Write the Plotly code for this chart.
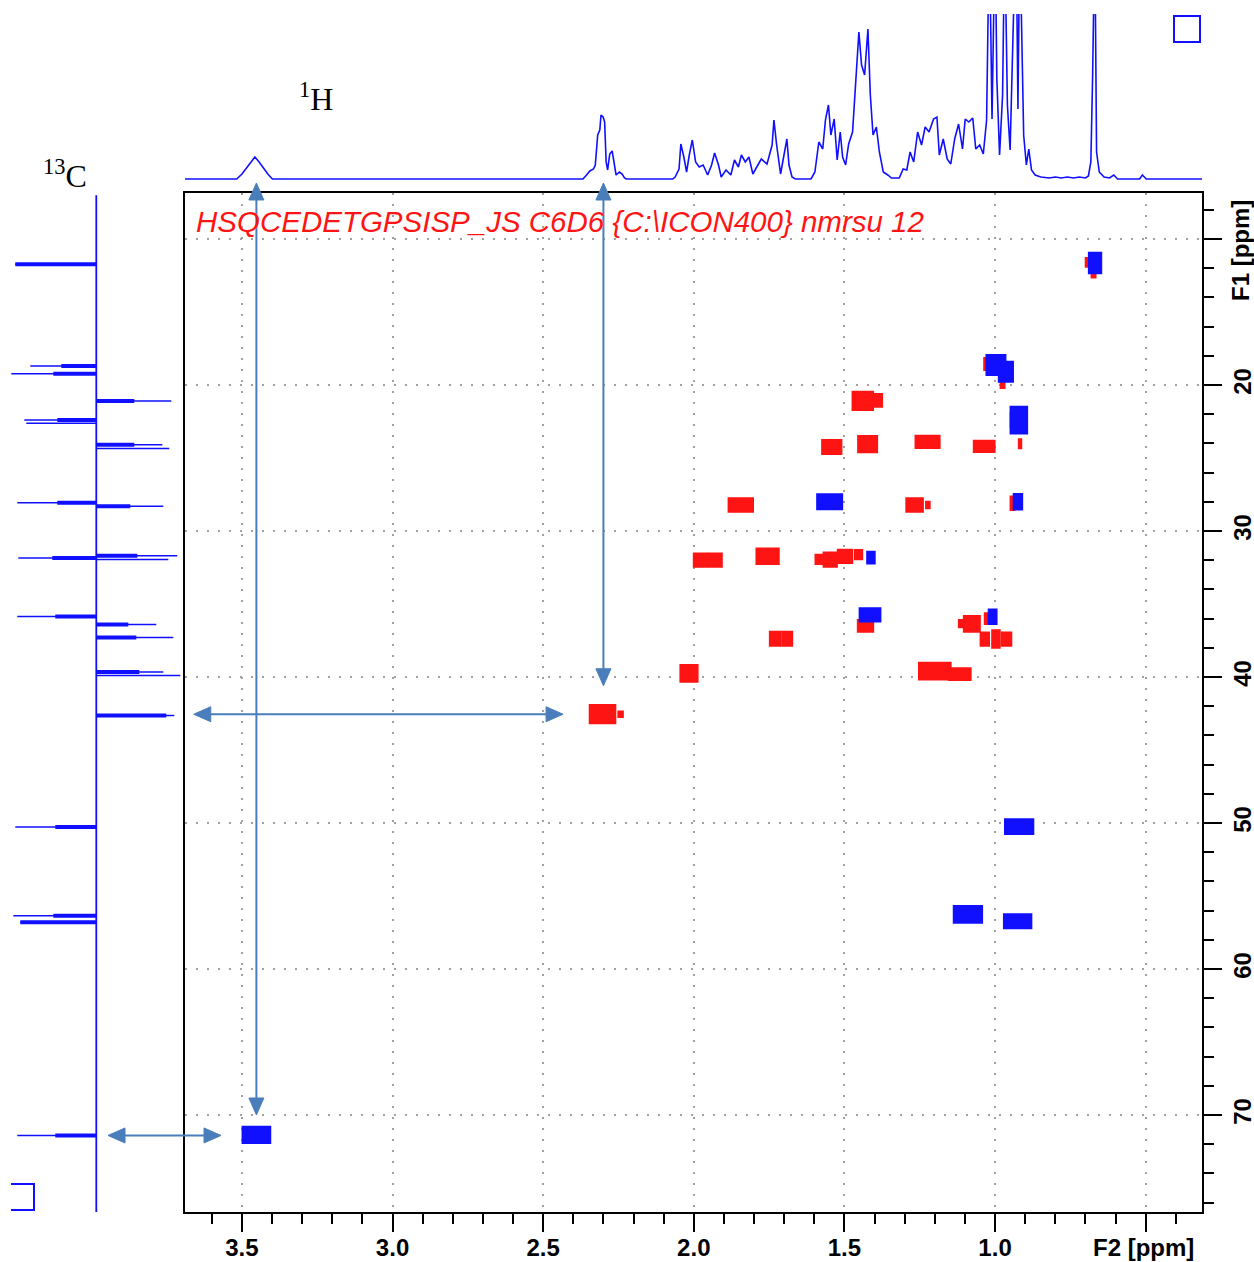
import plotly.graph_objects as go

W, H = 1254, 1262

# ---------------- 1H projection (F2) : ppm / intensity (arbitrary, clipped at top) -------------
h1_ppm = [3.689, 3.517, 3.500, 3.483, 3.472, 3.457, 3.443, 3.431, 3.414, 3.399,
          2.368, 2.356, 2.345, 2.333, 2.327, 2.319, 2.312, 2.308, 2.301, 2.296, 2.291, 2.286,
          2.279, 2.271, 2.264, 2.258, 2.247, 2.238, 2.230, 2.224,
          2.070, 2.062, 2.049, 2.043, 2.033, 2.024, 2.015, 2.005, 1.994, 1.982, 1.969, 1.954,
          1.941, 1.931, 1.918, 1.909, 1.893, 1.877, 1.865, 1.852, 1.842, 1.829, 1.817, 1.804,
          1.791, 1.776, 1.757, 1.740, 1.734, 1.725, 1.712, 1.699, 1.691, 1.684, 1.674, 1.663,
          1.611, 1.598, 1.585, 1.572, 1.563, 1.553, 1.545, 1.534, 1.524, 1.514, 1.506, 1.496,
          1.486, 1.473, 1.464, 1.452, 1.443, 1.433, 1.422, 1.414, 1.405, 1.394, 1.384, 1.371,
          1.356, 1.344, 1.318, 1.305, 1.293, 1.282, 1.270, 1.257, 1.244, 1.232, 1.219, 1.204,
          1.193, 1.185, 1.172, 1.159, 1.147, 1.134, 1.121, 1.108, 1.099, 1.087, 1.074, 1.064,
          1.051, 1.039, 1.028, 1.019, 1.010, 1.000, 0.994, 0.985, 0.975, 0.968, 0.959, 0.950,
          0.939, 0.930, 0.924, 0.918, 0.905, 0.896, 0.888, 0.879, 0.867, 0.848, 0.820, 0.800,
          0.780, 0.760, 0.740, 0.720, 0.700, 0.690, 0.682, 0.676, 0.669, 0.663, 0.654, 0.638,
          0.620, 0.606, 0.593, 0.520, 0.511, 0.498, 0.313]
h1_int = [0, 0, 5, 12, 17, 22, 17, 12, 5, 0,
          0, 4, 8, 10, 14, 44, 49, 64, 62, 57, 17, 9,
          25, 28, 15, 4, 7, 5, 1, 0,
          0, 2, 10, 35, 22, 7, 24, 39, 17, 12, 14, 4,
          14, 26, 14, 2, 9, 4, 19, 12, 24, 17, 22, 5,
          12, 20, 15, 34, 59, 34, 5, 27, 40, 14, 2, 0,
          0, 7, 37, 30, 59, 74, 44, 60, 19, 47, 22, 14,
          35, 47, 90, 147, 114, 104, 150, 84, 44, 52, 27, 7,
          4, 1, 1, 10, 9, 27, 17, 47, 34, 52, 47, 60,
          62, 24, 40, 20, 15, 40, 55, 30, 60, 57, 61, 30,
          34, 25, 59, 250, 60, 250, 100, 24, 84, 250, 74, 29,
          160, 250, 70, 250, 44, 14, 30, 9, 4, 2, 1, 2,
          1, 2, 1, 2, 1, 3, 17, 104, 250, 27, 7, 2,
          1, 4, 0, 0, 4, 0, 0]

# ---------------- 13C projection (F1) : ppm / intensity (+ left, - right) ----------------------
c13_ppm = [11.73, 18.70, 19.23, 22.40, 22.62, 28.06, 31.85, 35.86, 50.27, 56.35, 56.80, 71.40,
           21.10, 24.10, 24.35, 28.30, 31.70, 31.95, 36.40, 37.30, 39.66, 39.90, 42.63]
c13_int = [81, 66, 85, 72, 70, 79, 78, 79, 81, 83, 76, 79,
           -75, -66, -73, -67, -81, -72, -60, -77, -67, -84, -78]
c13_body = [81, 35, 43, 39, 0, 39, 44, 41, 41, 43, 76, 41,
            -38, -38, 0, -34, -41, 0, -32, -40, -43, 0, -70]

# ---------------- HSQC cross peaks: centre (1H, 13C), extent, phase ---------------------------
pk_h = [0.692, 0.673, 1.031, 0.975, 1.439, 1.390, 0.942, 0.917,
        1.542, 1.423, 1.224, 1.036, 1.844, 1.267, 1.223, 0.942,
        1.978, 1.929, 1.755, 1.585, 1.547, 1.498, 1.453, 1.430,
        1.730, 1.690, 1.077, 1.113, 1.026, 1.034, 0.997, 0.962,
        1.200, 1.117, 2.016, 2.303, 2.243,
        0.668, 0.997, 0.964, 0.921, 1.549, 0.924, 1.412, 1.415,
        1.008, 0.920, 1.090, 0.925, 3.452]
pk_c = [11.60, 12.47, 18.56, 19.40, 21.08, 21.05, 22.40, 24.03,
        24.25, 24.05, 23.90, 24.20, 28.22, 28.22, 28.22, 28.10,
        31.99, 31.99, 31.73, 31.94, 31.96, 31.74, 31.62, 36.50,
        37.38, 37.38, 36.36, 36.35, 36.00, 37.40, 37.40, 37.40,
        39.60, 39.80, 39.75, 42.55, 42.55,
        11.64, 18.63, 19.09, 22.40, 28.00, 28.00, 31.82, 35.75,
        35.87, 50.25, 56.26, 56.73, 71.36]
pk_dh = [0.014, 0.013, 0.010, 0.013, 0.068, 0.030, 0.012, 0.008,
         0.064, 0.063, 0.080, 0.069, 0.081, 0.055, 0.012, 0.013,
         0.044, 0.044, 0.074, 0.022, 0.044, 0.048, 0.024, 0.051,
         0.035, 0.033, 0.053, 0.014, 0.016, 0.028, 0.025, 0.032,
         0.105, 0.072, 0.057, 0.085, 0.015,
         0.041, 0.063, 0.047, 0.055, 0.083, 0.028, 0.025, 0.069,
         0.026, 0.094, 0.094, 0.091, 0.092]
pk_dc = [0.60, 0.35, 0.82, 1.60, 1.25, 0.87, 1.00, 0.62,
         0.96, 1.10, 0.84, 0.77, 0.91, 0.91, 0.46, 0.91,
         0.91, 0.91, 1.07, 0.64, 0.98, 0.91, 0.64, 0.80,
         0.96, 0.96, 1.07, 0.50, 0.73, 0.91, 1.19, 0.91,
         1.14, 0.80, 1.14, 1.25, 0.38,
         1.41, 1.37, 1.37, 1.83, 1.03, 1.07, 0.80, 0.91,
         1.00, 1.00, 1.14, 0.96, 1.10]
pk_phase = ["neg"] * 37 + ["pos"] * 13   # neg = CH2 (red), pos = CH/CH3 (blue)

# ---------------- axis ticks ----------------
x_tickvals = [3.5, 3.0, 2.5, 2.0, 1.5, 1.0, 0.5]
x_ticktext = ["3.5", "3.0", "2.5", "2.0", "1.5", "1.0", ""]
y_tickvals = [10, 20, 30, 40, 50, 60, 70]
y_ticktext = ["", "20", "30", "40", "50", "60", "70"]

X_RANGE = [3.689, 0.313]
Y_RANGE = [76.644, 6.849]

RED = "#ff1414"
BLUE = "#1010ff"
ARROW = "#4a7ebb"


def px(xp):
    return xp / W


def py(yp):
    return 1 - yp / H


X_DOM = [px(185), px(1202)]
Y_DOM = [py(1212), py(193)]
Y2_DOM = [py(180), py(14)]
X3_DOM = [0, px(185)]


def c_to_paper(c):
    f = (c - Y_RANGE[0]) / (Y_RANGE[1] - Y_RANGE[0])
    return Y_DOM[0] + f * (Y_DOM[1] - Y_DOM[0])


def h_to_paper(h):
    f = (h - X_RANGE[0]) / (X_RANGE[1] - X_RANGE[0])
    return X_DOM[0] + f * (X_DOM[1] - X_DOM[0])


fig = go.Figure()

# 1H projection
fig.add_trace(go.Scatter(x=h1_ppm, y=h1_int, mode="lines", xaxis="x2", yaxis="y2",
                         line=dict(color=BLUE, width=1.6), hoverinfo="skip"))

# 13C projection
bx, by = [0, 0], [Y_RANGE[1] + 0.15, Y_RANGE[0]]
fig.add_trace(go.Scatter(x=bx, y=by, mode="lines", xaxis="x3", yaxis="y3",
                         line=dict(color=BLUE, width=1.8), hoverinfo="skip"))
tx, ty, sx, sy = [], [], [], []
for c, v, b in zip(c13_ppm, c13_int, c13_body):
    tx += [0, v, None]
    ty += [c, c, None]
    if b:
        sx += [0, b, None]
        sy += [c, c, None]
fig.add_trace(go.Scatter(x=tx, y=ty, mode="lines", xaxis="x3", yaxis="y3",
                         line=dict(color=BLUE, width=1.5), hoverinfo="skip"))
fig.add_trace(go.Scatter(x=sx, y=sy, mode="lines", xaxis="x3", yaxis="y3",
                         line=dict(color=BLUE, width=4), hoverinfo="skip"))

shapes = []
# cross peaks (red first, blue on top)
for phase in ["neg", "pos"]:
    col = RED if phase == "neg" else BLUE
    for h, c, dh, dc, ph in zip(pk_h, pk_c, pk_dh, pk_dc, pk_phase):
        if ph != phase:
            continue
        shapes.append(dict(type="rect", xref="x", yref="y",
                           x0=h + dh / 2, x1=h - dh / 2, y0=c - dc / 2, y1=c + dc / 2,
                           fillcolor=col, line=dict(color=col, width=2)))

# corner boxes
shapes.append(dict(type="rect", xref="paper", yref="paper",
                   x0=px(1174), x1=px(1200), y0=py(42), y1=py(16),
                   line=dict(color=BLUE, width=2), fillcolor="rgba(0,0,0,0)"))
shapes.append(dict(type="path", xref="paper", yref="paper",
                   path=f"M {px(11)} {py(1184)} L {px(34)} {py(1184)} L {px(34)} {py(1210)} L {px(11)} {py(1210)}",
                   line=dict(color=BLUE, width=2)))


# double-headed correlation arrows (paper coords), heads as filled triangles
def v_arrow(xp, y_top, y_bot):
    hl, hw = 17 / H, 7.5 / W
    shapes.append(dict(type="line", xref="paper", yref="paper", x0=xp, x1=xp,
                       y0=y_top - hl * 0.5, y1=y_bot + hl * 0.5,
                       line=dict(color=ARROW, width=2)))
    for tip, base in [(y_top, y_top - hl), (y_bot, y_bot + hl)]:
        shapes.append(dict(type="path", xref="paper", yref="paper",
                           path=f"M {xp} {tip} L {xp - hw} {base} L {xp + hw} {base} Z",
                           fillcolor=ARROW, line=dict(color=ARROW, width=1)))


def h_arrow(yp, x_left, x_right):
    hl, hw = 17 / W, 7.5 / H
    shapes.append(dict(type="line", xref="paper", yref="paper", x0=x_left + hl * 0.5,
                       x1=x_right - hl * 0.5, y0=yp, y1=yp,
                       line=dict(color=ARROW, width=2)))
    for tip, base in [(x_left, x_left + hl), (x_right, x_right - hl)]:
        shapes.append(dict(type="path", xref="paper", yref="paper",
                           path=f"M {tip} {yp} L {base} {yp - hw} L {base} {yp + hw} Z",
                           fillcolor=ARROW, line=dict(color=ARROW, width=1)))


TOP = py(183)  # arrows start just under the 1H projection
v_arrow(h_to_paper(3.452), TOP, c_to_paper(70.0))      # 1H 3.45 -> C 71.4
v_arrow(h_to_paper(2.30), TOP, c_to_paper(40.6))       # 1H 2.30 -> C 42.5
h_arrow(c_to_paper(42.55), h_to_paper(3.66), h_to_paper(2.434))
h_arrow(c_to_paper(71.4), px(108), px(221))

tickfont = dict(family="Liberation Sans, Arial", size=24, color="black", weight="bold")

fig.update_layout(
    width=W, height=H, margin=dict(l=0, r=0, t=0, b=0),
    paper_bgcolor="white", plot_bgcolor="white", showlegend=False,
    xaxis=dict(domain=X_DOM, range=X_RANGE, anchor="y", side="bottom",
               tickmode="array", tickvals=x_tickvals, ticktext=x_ticktext,
               ticks="outside", ticklen=18, tickwidth=2, tickcolor="black",
               ticklabelstandoff=-5,
               showline=True, linecolor="black", linewidth=2, mirror=True,
               showgrid=True, gridcolor="#a0a0a0", gridwidth=2, griddash="2px,9px",
               zeroline=False, tickfont=tickfont, automargin=False,
               minor=dict(tickmode="linear", tick0=0, dtick=0.1, ticks="outside",
                          ticklen=10, tickwidth=2, tickcolor="black", showgrid=False)),
    yaxis=dict(domain=Y_DOM, range=Y_RANGE, anchor="x", side="right",
               tickmode="array", tickvals=y_tickvals, ticktext=y_ticktext,
               ticks="outside", ticklen=18, tickwidth=2, tickcolor="black", tickangle=-90,
               showline=True, linecolor="black", linewidth=2, mirror=True,
               showgrid=True, gridcolor="#a0a0a0", gridwidth=2, griddash="2px,9px",
               zeroline=False, tickfont=tickfont, automargin=False,
               minor=dict(tickmode="linear", tick0=0, dtick=2, ticks="outside",
                          ticklen=10, tickwidth=2, tickcolor="black", showgrid=False)),
    xaxis2=dict(domain=X_DOM, range=X_RANGE, anchor="y2", visible=False),
    yaxis2=dict(domain=Y2_DOM, range=[-1, 165], anchor="x2", visible=False),
    xaxis3=dict(domain=X3_DOM, range=[96.3, -88.7], anchor="y3", visible=False),
    yaxis3=dict(domain=Y_DOM, range=Y_RANGE, anchor="x3", visible=False),
    shapes=shapes,
)

ann = []
ann.append(dict(text="HSQCEDETGPSISP_JS C6D6 {C:\\ICON400} nmrsu 12", xref="paper", yref="paper",
                x=px(194), y=py(221), xanchor="left", yanchor="middle", showarrow=False,
                font=dict(family="Liberation Sans, Arial", size=29.5, color=RED, style="italic")))
ann.append(dict(text="F1 [ppm]", xref="paper", yref="paper", x=px(1240), y=py(251),
                xanchor="center", yanchor="middle", textangle=-90, showarrow=False,
                font=tickfont))
ann.append(dict(text="F2 [ppm]", xref="paper", yref="paper", x=px(1143), y=py(1247),
                xanchor="center", yanchor="middle", showarrow=False, font=tickfont))
ann.append(dict(text="<sup>1</sup>H", xref="paper", yref="paper", x=px(316), y=py(97),
                xanchor="center", yanchor="middle", showarrow=False,
                font=dict(family="Liberation Serif, Times New Roman", size=32, color="black")))
ann.append(dict(text="<sup>13</sup>C", xref="paper", yref="paper", x=px(65), y=py(174),
                xanchor="center", yanchor="middle", showarrow=False,
                font=dict(family="Liberation Serif, Times New Roman", size=32, color="black")))
fig.update_layout(annotations=ann)

fig.write_html("out.html", config={"displayModeBar": False},
               post_script="document.body.style.margin='0px';")
